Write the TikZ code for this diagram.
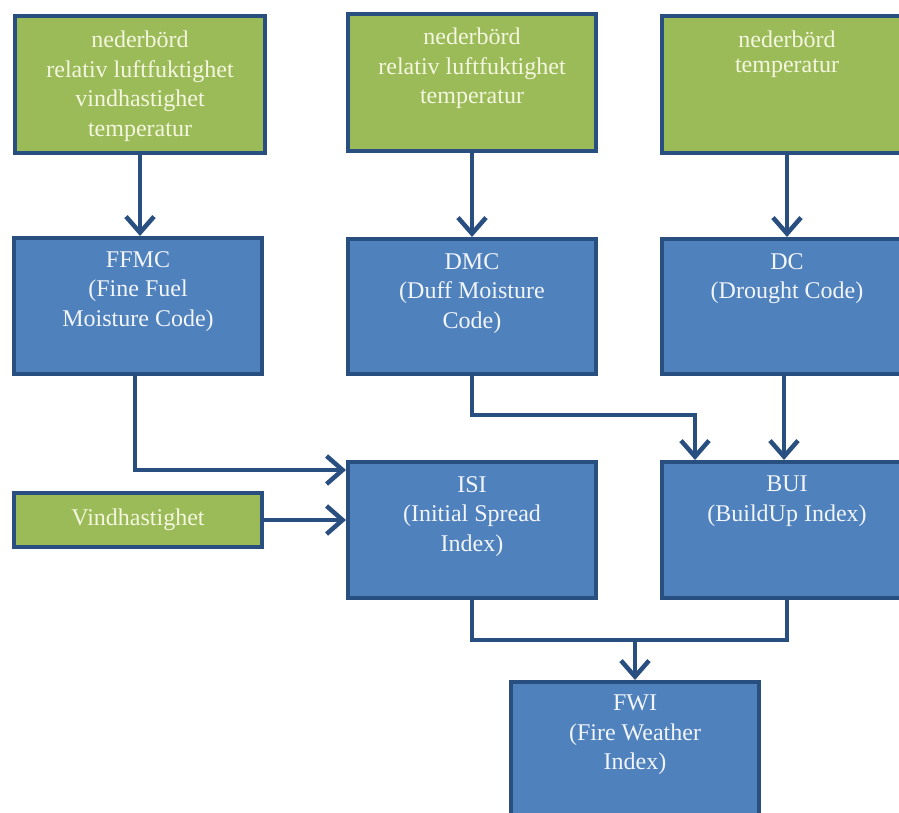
\documentclass[tikz,border=0pt]{standalone}
\usepackage{fontspec}
\setmainfont{Liberation Serif}
\usetikzlibrary{arrows.meta,calc}
\definecolor{bgreen}{HTML}{9BBB59}
\definecolor{bblue}{HTML}{4F81BD}
\definecolor{bedge}{HTML}{284F80}
\definecolor{gtext}{HTML}{F4F6DF}
\definecolor{btext}{HTML}{F2F5FA}
\tikzset{
  box/.style={draw=bedge, line width=4pt, rectangle, anchor=north west, inner sep=0pt},
  gbox/.style={box, fill=bgreen},
  bbox/.style={box, fill=bblue},
  gtxt/.style={anchor=north, align=center, inner sep=0pt, text=gtext, font=\fontsize{24}{29.5}\selectfont},
  btxt/.style={gtxt, text=btext},
  conn/.style={draw=bedge, line width=4.5pt},
  arr/.style={conn, -{Straight Barb[length=16pt,width=28pt,line width=4.5pt]}}
}
\begin{document}
\begin{tikzpicture}[x=1pt,y=-1pt]
\useasboundingbox (0,0) rectangle (899,813);
\clip (0,0) rectangle (899,813);
% boxes
\node[gbox, minimum width=250pt, minimum height=137pt] (g1) at (13,14) {};
\node[gbox, minimum width=248pt, minimum height=137pt] (g2) at (346,12) {};
\node[gbox, minimum width=250pt, minimum height=137pt] (g3) at (660,14) {};
\node[bbox, minimum width=248pt, minimum height=136pt] (ffmc) at (12,236) {};
\node[bbox, minimum width=248pt, minimum height=135pt] (dmc) at (346,237) {};
\node[bbox, minimum width=250pt, minimum height=135pt] (dc) at (660,237) {};
\node[bbox, minimum width=248pt, minimum height=136pt] (isi) at (346,460) {};
\node[bbox, minimum width=250pt, minimum height=136pt] (bui) at (660,460) {};
\node[gbox, minimum width=248pt, minimum height=54pt] (vind) at (12,491) {};
\node[bbox, minimum width=248pt, minimum height=150pt] (fwi) at (509,680) {};
% texts
\node[gtxt] (t1) at ([yshift=-17pt]g1.north) {nederbörd\\relativ luftfuktighet\\vindhastighet\\temperatur};
\node[gtxt] (t2) at ([yshift=-16pt]g2.north) {nederbörd\\relativ luftfuktighet\\temperatur};
\node[gtxt, font=\fontsize{24}{25}\selectfont] (t3) at ([yshift=-17pt]g3.north) {nederbörd\\temperatur};
\node[btxt] (t4) at ([yshift=-15pt]ffmc.north) {FFMC\\(Fine Fuel\\Moisture Code)};
\node[btxt] (t5) at ([yshift=-16pt]dmc.north) {DMC\\(Duff Moisture\\Code)};
\node[btxt] (t6) at ([yshift=-16pt]dc.north) {DC\\(Drought Code)};
\node[btxt] (t7) at ([yshift=-16pt]isi.north) {ISI\\(Initial Spread\\Index)};
\node[btxt] (t8) at ([yshift=-16pt]bui.north) {BUI\\(BuildUp Index)};
\node[gtxt, anchor=center] (t9) at (vind.center) {Vindhastighet};
\node[btxt] (t10) at ([yshift=-15pt]fwi.north) {FWI\\(Fire Weather\\Index)};
% connectors
\draw[arr] (g1.south) -- (g1.south |- ffmc.north);
\draw[arr] (g2.south) -- (g2.south |- dmc.north);
\draw[arr] (g3.south) -- (g3.south |- dc.north);
\draw[arr] ([xshift=-3pt]ffmc.south) |- ([yshift=-10pt]isi.north west);
\draw[arr] (vind.east) -- (isi.west |- vind.east);
\draw[arr] (dmc.south) -- ++(0,39) -| ([xshift=35pt]bui.north west);
\draw[arr] ([xshift=-3pt]dc.south) -- ([xshift=-3pt]bui.north);
\draw[conn] (isi.south) -- ++(0,40) coordinate (j) -| (bui.south);
\draw[arr] (fwi.north |- j) -- (fwi.north);
\end{tikzpicture}
\end{document}
